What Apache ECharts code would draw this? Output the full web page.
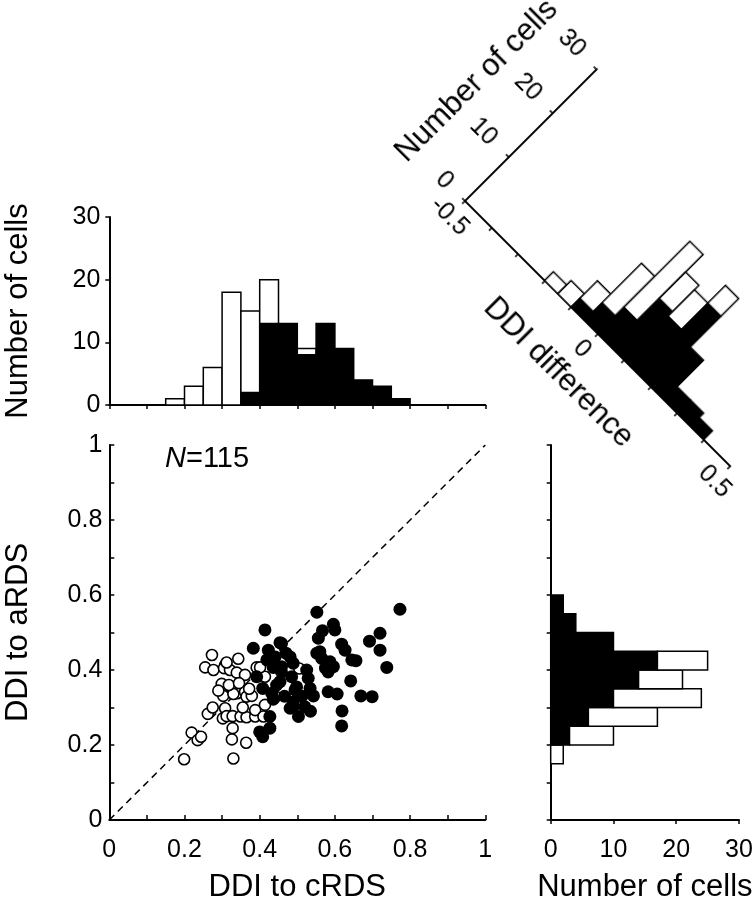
<!DOCTYPE html>
<html><head><meta charset="utf-8">
<script src="https://cdn.jsdelivr.net/npm/echarts@6/dist/echarts.min.js"></script>
<style>
html,body{margin:0;padding:0;background:#fff;overflow:hidden;width:755px;height:899px;}
#main{position:absolute;left:0;top:0;width:755px;height:899px;}
#rot{position:absolute;left:365px;top:-49px;width:540px;height:360px;transform-origin:100px 250px;transform:rotate(45deg);}
</style></head><body>
<div id="main"></div><div id="rot"></div>
<script>
// ---------------- data ----------------
// scatter: DDI to cRDS (x), DDI to aRDS (y)
const openX = [0.199,0.219,0.235,0.244,0.262,0.275,0.273,0.255,0.277,0.302,0.308,0.299,0.303,0.308,0.305,0.323,0.328,0.326,0.330,0.312,0.328,0.321,0.339,0.343,0.334,0.340,0.330,0.349,0.361,0.361,0.365,0.379,0.364,0.365,0.388,0.388,0.392,0.410,0.414,0.414,0.443,0.401,0.505,0.318,0.345,0.290,0.372,0.355,0.312];
const openY = [0.162,0.233,0.213,0.222,0.283,0.300,0.440,0.407,0.400,0.271,0.298,0.363,0.331,0.413,0.405,0.354,0.245,0.215,0.164,0.277,0.277,0.400,0.393,0.430,0.351,0.338,0.336,0.276,0.387,0.342,0.329,0.331,0.206,0.274,0.276,0.293,0.407,0.276,0.307,0.382,0.329,0.407,0.404,0.360,0.365,0.345,0.350,0.300,0.420];
const fillX = [0.414,0.383,0.454,0.423,0.419,0.441,0.436,0.458,0.392,0.408,0.432,0.436,0.454,0.485,0.481,0.489,0.494,0.489,0.503,0.427,0.427,0.408,0.489,0.552,0.773,0.596,0.600,0.567,0.556,0.618,0.627,0.692,0.720,0.720,0.738,0.645,0.656,0.552,0.560,0.587,0.596,0.582,0.565,0.642,0.582,0.606,0.669,0.699,0.619,0.618,0.543,0.534,0.525,0.529,0.520,0.481,0.458,0.498,0.458,0.470,0.535,0.512,0.575,0.400,0.445,0.466];
const fillY = [0.507,0.458,0.473,0.453,0.427,0.435,0.407,0.409,0.382,0.351,0.338,0.322,0.369,0.382,0.435,0.418,0.347,0.302,0.276,0.276,0.245,0.222,0.315,0.554,0.562,0.522,0.507,0.505,0.485,0.469,0.453,0.477,0.498,0.453,0.407,0.427,0.425,0.445,0.449,0.422,0.409,0.395,0.431,0.371,0.342,0.336,0.331,0.329,0.291,0.251,0.331,0.351,0.400,0.378,0.302,0.298,0.471,0.355,0.395,0.445,0.290,0.330,0.405,0.235,0.360,0.330];
const identityLine = [[0,0],[1,1]];

// top histogram (DDI to cRDS), bin width 0.05
const binWidth = 0.05;
const topBins   = [0.15,0.20,0.25,0.30,0.35,0.40,0.45,0.50,0.55,0.60,0.65,0.70,0.75];
const topFilled = [0,0,0,0,2,13,13,8,13,9,4,3,1];
const topTotal  = [1,3,6,18,15,20,13,9,13,9,4,3,1];

// right histogram (DDI to aRDS)
const rightBins   = [0.15,0.20,0.25,0.30,0.35,0.40,0.45,0.50,0.55];
const rightFilled = [0,3,6,10,14,17,10,4,2];
const rightTotal  = [2,10,17,24,21,25,10,4,2];

// diagonal histogram (DDI difference)
const diffBins   = [-0.20,-0.15,-0.10,-0.05,0.00,0.05,0.10,0.15,0.20,0.25,0.30,0.35];
const diffFilled = [0,0,2,4,6,11,10,16,9,3,3,2];
const diffTotal  = [2,3,6,13,21,17,16,20,9,3,3,2];

const countTicks = [0,10,20,30];
const FONT = "'Liberation Sans', Arial, sans-serif";
const LAB = 25, NAME = 31;

// ---------------- helpers ----------------
function zipXY(xs, ys){ return xs.map((x,i)=>[x, ys[i]]); }
function evenTenth(v){ const k=Math.round(v*10); return k%2===0 ? String(k/10) : ''; }
function histSeries(xi, yi, bins, filled, total, horizontal){
  const data = bins.map((s,i)=>[s, s+binWidth, filled[i], total[i]]);
  return {
    type:'custom', xAxisIndex:xi, yAxisIndex:yi, silent:true, z:3,
    encode: horizontal ? {x:[2,3], y:[0,1]} : {x:[0,1], y:[2,3]},
    data,
    renderItem(params, api){
      const a=api.value(0), b=api.value(1), f=api.value(2), t=api.value(3);
      const rect=(c,d)=>{
        const p0 = horizontal ? api.coord([c,a]) : api.coord([a,c]);
        const p1 = horizontal ? api.coord([d,b]) : api.coord([b,d]);
        return {x:Math.min(p0[0],p1[0]), y:Math.min(p0[1],p1[1]), width:Math.abs(p1[0]-p0[0]), height:Math.abs(p1[1]-p0[1])};
      };
      const ch=[];
      if(f>0) ch.push({type:'rect', shape:rect(0,f), style:{fill:'#000', stroke:'#000', lineWidth:1.5}});
      if(t>f) ch.push({type:'rect', shape:rect(f,t), style:{fill:'#fff', stroke:'#000', lineWidth:1.5}});
      return {type:'group', children:ch};
    }
  };
}
const axLine = {show:true, onZero:false, lineStyle:{color:'#000', width:2}};
const tickOut = {show:true, inside:false, length:4, lineStyle:{color:'#000', width:1.5}};
const tickIn = {show:true, inside:true, length:5, lineStyle:{color:'#000', width:1.5}};
const labStyle = {color:'#000', fontSize:LAB, fontFamily:FONT};
const nameStyle = {color:'#000', fontSize:NAME, fontFamily:FONT};
const G = {outerBoundsMode:'none', containLabel:false};

// ---------------- main chart ----------------
const main = echarts.init(document.getElementById('main'), null, {renderer:'canvas'});
main.setOption({
  animation:false,
  textStyle:{fontFamily:FONT},
  grid:[
    Object.assign({left:109.3, top:445, width:376, height:375}, G),
    Object.assign({left:109.3, top:217, width:376, height:188}, G),
    Object.assign({left:550.7, top:445, width:188.3, height:375}, G)
  ],
  xAxis:[
    {gridIndex:0, type:'value', min:0, max:1, interval:0.1, axisLine:axLine, axisTick:tickIn, splitLine:{show:false},
     axisLabel:Object.assign({formatter:evenTenth, margin:18}, labStyle),
     name:'DDI to cRDS', nameLocation:'middle', nameGap:52, nameTextStyle:nameStyle},
    {gridIndex:1, type:'value', min:0, max:1, interval:0.1, axisLine:axLine, axisTick:tickOut, splitLine:{show:false},
     axisLabel:{show:false}},
    {gridIndex:2, type:'value', min:0, max:30, interval:10, axisLine:axLine, axisTick:tickOut, splitLine:{show:false},
     axisLabel:Object.assign({margin:18}, labStyle),
     name:'Number of cells', nameLocation:'middle', nameGap:52, nameTextStyle:nameStyle}
  ],
  yAxis:[
    {gridIndex:0, type:'value', min:0, max:1, interval:0.1, axisLine:axLine, axisTick:tickIn, splitLine:{show:false},
     axisLabel:Object.assign({formatter:evenTenth, margin:7}, labStyle),
     name:'DDI to aRDS', nameLocation:'middle', nameGap:75, nameTextStyle:nameStyle},
    {gridIndex:1, type:'value', min:0, max:30, interval:10, axisLine:axLine, axisTick:tickOut, splitLine:{show:false},
     axisLabel:Object.assign({margin:9}, labStyle),
     name:'Number of cells', nameLocation:'middle', nameGap:75, nameTextStyle:nameStyle},
    {gridIndex:2, type:'value', min:0, max:1, interval:0.1, axisLine:axLine, axisTick:tickOut, splitLine:{show:false},
     axisLabel:{show:false}}
  ],
  graphic:[
    {type:'text', left:165, top:444, silent:true,
     style:{text:'{i|N}=115', fill:'#000', font:"29px "+FONT,
       rich:{i:{fontStyle:'italic', fontSize:29, fontFamily:FONT, fill:'#000'}}}}
  ],
  series:[
    {type:'line', xAxisIndex:0, yAxisIndex:0, data:identityLine, symbol:'none', silent:true, z:1,
     lineStyle:{color:'#000', width:1.5, type:[7,5]}},
    {type:'scatter', xAxisIndex:0, yAxisIndex:0, data:zipXY(openX, openY), symbol:'circle', symbolSize:11, z:2,
     itemStyle:{color:'#fff', borderColor:'#000', borderWidth:1.6, opacity:1}},
    {type:'scatter', xAxisIndex:0, yAxisIndex:0, data:zipXY(fillX, fillY), symbol:'circle', symbolSize:13, z:3,
     itemStyle:{color:'#000', opacity:1}},
    histSeries(1, 1, topBins, topFilled, topTotal, false),
    histSeries(2, 2, rightBins, rightFilled, rightTotal, true)
  ]
});

// ---------------- rotated (diagonal) histogram ----------------
const rot = echarts.init(document.getElementById('rot'), null, {renderer:'canvas'});
rot.setOption({
  animation:false,
  textStyle:{fontFamily:FONT},
  grid:Object.assign({left:100, top:63.4, width:375, height:186.6}, G),
  xAxis:{type:'value', min:-0.5, max:0.5, interval:0.1, axisLine:axLine, axisTick:tickOut, splitLine:{show:false},
    axisLabel:Object.assign({margin:10, formatter:v=>{const k=Math.round(v*10); return k%5===0 ? String(k/10) : '';}}, labStyle),
    name:'DDI difference', nameLocation:'middle', nameGap:37, nameTextStyle:nameStyle},
  yAxis:{type:'value', min:countTicks[0], max:countTicks[countTicks.length-1], interval:10, axisLine:axLine, axisTick:tickOut, splitLine:{show:false},
    axisLabel:Object.assign({margin:22}, labStyle),
    name:'Number of cells', nameLocation:'middle', nameGap:60, nameTextStyle:nameStyle},
  series:[histSeries(0, 0, diffBins, diffFilled, diffTotal, false)]
});
</script>
</body></html>
